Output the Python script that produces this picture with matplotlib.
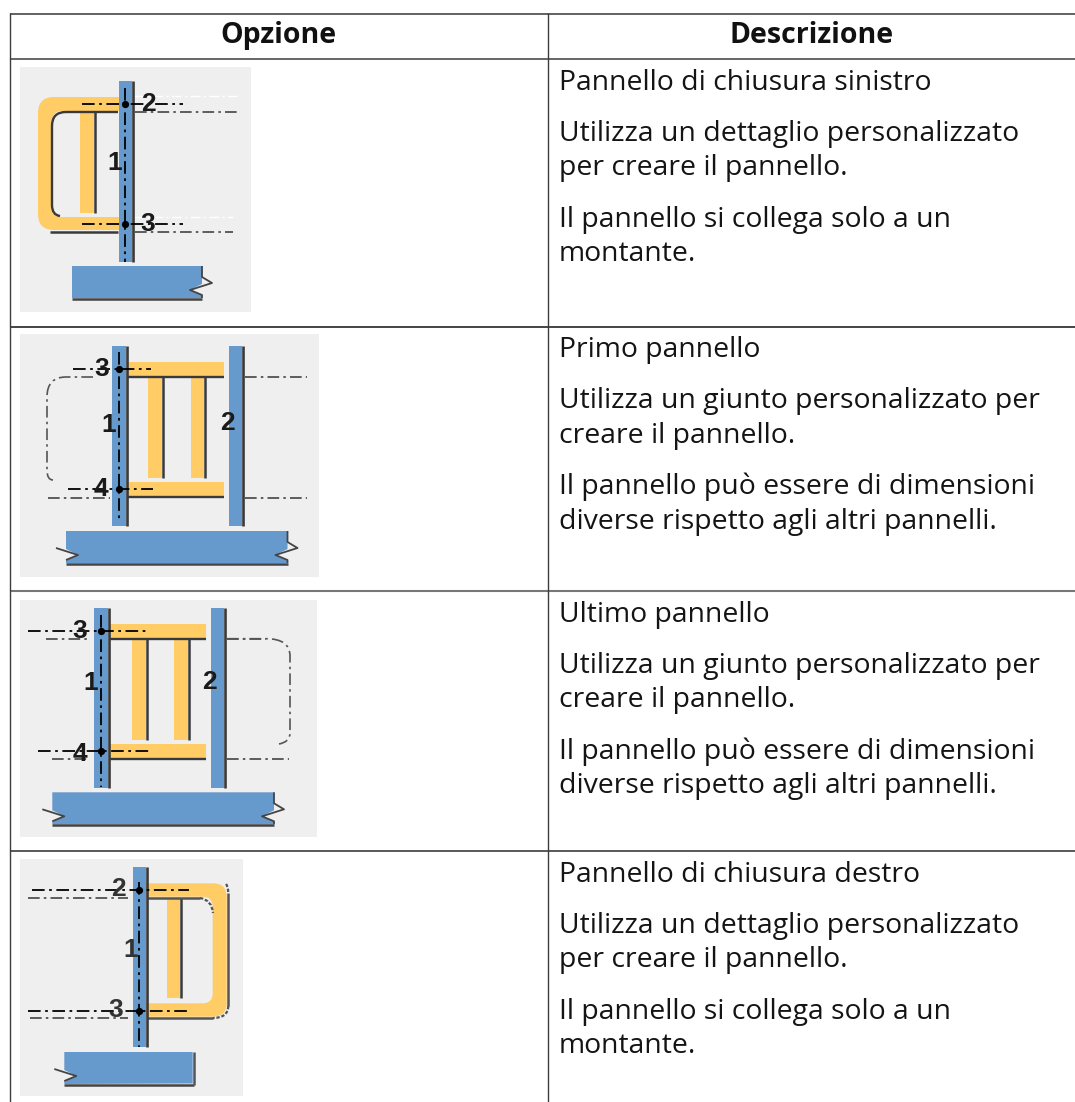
"""
Table of panel options (Opzione / Descrizione), drawn in pixel coordinates.
Output: out.png
"""

import matplotlib
matplotlib.use("Agg")
import matplotlib.pyplot as plt
from matplotlib.patches import PathPatch, Polygon, Rectangle
from matplotlib.path import Path

W, H = 1075, 1102
BLUE, YELLOW, PANEL_BG = "#6699CC", "#FFCC66", "#EFEFEF"
DARK, RULE = "#3A3A3A", "#3C3C3C"
DASHDOT = (0, (7, 2.5, 1.5, 2.5))

# ── table text ─────────────────────────────────────────────────────────────────
HEADERS = ["Opzione", "Descrizione"]
HEADER_X = [278, 812]
ROW_TOPS = [59, 326.5, 591, 851]
RULE_COLORS = ["#3C3C3C", "#444444", "#777777", "#3C3C3C"]
RULE_WIDTHS = [1.1, 1.4, 1.5, 1.2]
ROW_TEXT = [
    ["Pannello di chiusura sinistro", None,
     "Utilizza un dettaglio personalizzato", "per creare il pannello.", None,
     "Il pannello si collega solo a un", "montante."],
    ["Primo pannello", None,
     "Utilizza un giunto personalizzato per", "creare il pannello.", None,
     "Il pannello può essere di dimensioni", "diverse rispetto agli altri pannelli."],
    ["Ultimo pannello", None,
     "Utilizza un giunto personalizzato per", "creare il pannello.", None,
     "Il pannello può essere di dimensioni", "diverse rispetto agli altri pannelli."],
    ["Pannello di chiusura destro", None,
     "Utilizza un dettaglio personalizzato", "per creare il pannello.", None,
     "Il pannello si collega solo a un", "montante."],
]

# ── panel backgrounds (x0, y0, x1, y1) ─────────────────────────────────────────
PANELS = [(20, 67, 251, 312), (20, 334, 319, 577), (20, 600, 317, 837), (20, 859, 243, 1096)]

# posts: x0, x1, y0, y1
POSTS = [
    [(118.5, 132, 81, 262)],
    [(112.3, 125.7, 346, 526), (228.7, 241.7, 346, 526)],
    [(94.3, 107.7, 608, 788), (210.7, 224, 608, 788)],
    [(132.7, 146, 867, 1047)],
]
# yellow rails and ribs: x0, x1, y0, y1
RAILS = [
    [],
    [(127, 223.5, 362.3, 376), (127, 223.5, 482.3, 496.5)],
    [(109, 205.7, 624, 638), (109, 205.7, 744.3, 758.5)],
    [],
]
RIBS = [
    [(80, 93.5, 112, 213)],
    [(148.3, 161.7, 377, 478), (190.7, 204, 377, 478)],
    [(132.3, 145.7, 639, 740), (174.3, 187.7, 639, 740)],
    [(166.7, 180, 898, 998)],
]
# beams: x0, x1, y0, y1, left break, right break
BEAMS = [
    (72, 202, 266, 298, False, True),
    (66, 287.5, 531, 563, True, True),
    (52.3, 274, 792.3, 824.3, True, True),
    (64.3, 192.7, 1052, 1083.5, True, False),
]
BREAK_BLUE = [(0, 0), (0, 18), (-12, 24), (0, 29), (0, 32)]
BREAK_LINE = [(0, 0), (0, 11), (10, 17), (-12, 24), (0, 29), (0, 32)]

# black centre lines: vertical (x, y0, y1), horizontal (y, x0, x1), nodes (x, y)
CENTER_V = [(125.3, 88, 262), (119.3, 352, 522), (101, 615, 787), (139.3, 882, 1047)]
CENTER_H = [
    [(104, 82, 183), (224, 82, 183)],
    [(369, 73, 151), (489.3, 68, 153)],
    [(630.7, 28, 149), (751.3, 38, 149)],
    [(890, 32, 189), (1010.7, 28, 189)],
]
# thin grey extension lines: y, x0, x1
GREY_H = [
    [(112, 135, 237), (232, 135, 233)],
    [(377, 245, 307), (497.7, 245, 307), (497.7, 48, 110)],
    [(638.7, 46, 90), (759.3, 52, 90), (638.7, 227, 266), (759.3, 227, 289)],
    [(897.7, 28, 128), (1018.3, 30, 128)],
]
WHITE_H = [(96, 134, 237), (217, 134, 233)]

# numbered labels: text, x, y
LABELS = [
    [("2", 148, 104), ("3", 148, 224), ("1", 115, 163)],
    [("3", 101.7, 369), ("4", 100.7, 489), ("1", 109, 425), ("2", 227.7, 423)],
    [("3", 79.3, 631), ("4", 80, 754), ("1", 90.7, 683), ("2", 209.3, 682)],
    [("2", 118.3, 889.5), ("3", 116, 1010), ("1", 131, 950)],
]

# ── figure in pixel coordinates ────────────────────────────────────────────────
fig = plt.figure(figsize=(W / 100, H / 100), dpi=100)
ax = fig.add_axes([0, 0, 1, 1])
ax.set_xlim(0, W)
ax.set_ylim(H, 0)
ax.axis("off")


def rect(x0, x1, y0, y1, color, z=2):
    ax.add_patch(Rectangle((x0, y0), x1 - x0, y1 - y0, fc=color, ec="none", zorder=z))


def line(xs, ys, color=DARK, lw=1.7, ls="-", z=3):
    ax.plot(xs, ys, color=color, lw=lw, ls=ls, zorder=z, solid_capstyle="butt")


def curve(pts, codes, color="#555555", lw=1.2, ls=DASHDOT, z=3):
    ax.add_patch(PathPatch(Path(pts, codes), fc="none", ec=color, lw=lw, ls=ls, zorder=z))


def beam(x0, x1, y0, y1, left, right):
    blue_r = [(x1 + dx, y0 + dy) for dx, dy in BREAK_BLUE] if right else [(x1, y0), (x1, y1)]
    blue_l = [(x0 - dx, y0 + dy) for dx, dy in BREAK_BLUE[::-1]] if left else [(x0, y1), (x0, y0)]
    ax.add_patch(Polygon(blue_r + blue_l, fc=BLUE, ec="none", zorder=2))
    line([x0, x1 + (1.5 if not right else 0)], [y1 + 1, y1 + 1], color="#444444", lw=1.8)
    if right:
        xs = [x1 + dx for dx, dy in BREAK_LINE]
        ys = [y0 + dy for dx, dy in BREAK_LINE]
        line(xs, ys, color="#444444", lw=1.3)
    else:
        line([x1 + 1, x1 + 1], [y0, y1 + 1], color="#555555", lw=1.8)
    if left:
        xs = [x0 - dx for dx, dy in BREAK_LINE[2:5]]
        ys = [y0 + dy for dx, dy in BREAK_LINE[2:5]]
        line(xs, ys, color="#444444", lw=1.3)


# table rules
line([10, W], [13.5, 13.5], color="#555555", lw=1.3, z=1)
for y, c, lw in zip(ROW_TOPS, RULE_COLORS, RULE_WIDTHS):
    line([10, W], [y, y], color=c, lw=lw, z=1)
line([10, 10], [13, H], color=RULE, lw=1.0, z=1)
line([547.5, 547.5], [13, H], color=RULE, lw=1.0, z=1)

# table text
for label, x in zip(HEADERS, HEADER_X):
    ax.text(x, 43, label, ha="center", va="baseline", fontsize=20.5,
            fontweight="bold", family="Open Sans", color="#111111")
for top, lines in zip(ROW_TOPS, ROW_TEXT):
    y = top + 30.6
    for t in lines:
        if t is None:
            y += 16.8
            continue
        ax.text(559, y, t, ha="left", va="baseline", fontsize=20.45,
                family="Open Sans", color="#141414")
        y += 34.5

# panels
for i, (x0, y0, x1, y1) in enumerate(PANELS):
    rect(x0, x1, y0, y1, PANEL_BG, z=1.5)
    for y, xa, xb in GREY_H[i]:
        line([xa, xb], [y, y], color="#444444", lw=1.2, ls=DASHDOT, z=2.5)
    for xa, xb, ya, yb in RAILS[i]:
        rect(xa, xb, ya, yb, YELLOW)
        line([xa, xb], [yb + 0.5, yb + 0.5], lw=1.7)
    for xa, xb, ya, yb in RIBS[i]:
        rect(xa, xb, ya, yb, YELLOW)
        line([xb + 1.3, xb + 1.3], [ya, yb], lw=1.8)
    beam(*BEAMS[i])

# closing panels: rounded yellow C / D shapes
M, L, Q, Z = Path.MOVETO, Path.LINETO, Path.CURVE3, Path.CLOSEPOLY
c_pts = [(119, 97), (54, 97), (38, 97), (38, 113), (38, 214), (38, 230), (54, 230), (119, 230),
         (119, 217), (62, 217), (52, 217), (52, 207), (52, 122), (52, 111), (62, 111), (119, 111),
         (119, 97)]
c_codes = [M, L, Q, Q, L, Q, Q, L, L, L, Q, Q, L, Q, Q, L, Z]
ax.add_patch(PathPatch(Path(c_pts, c_codes), fc=YELLOW, ec="none", zorder=2))
d_pts = [(146, 883.3), (213, 883.3), (226.7, 883.3), (226.7, 897), (226.7, 1003), (226.7, 1016.7),
         (213, 1016.7), (146, 1016.7), (146, 1003.3), (203, 1003.3), (212.7, 1003.3), (212.7, 993),
         (212.7, 907), (212.7, 896.7), (203, 896.7), (146, 896.7), (146, 883.3)]
ax.add_patch(PathPatch(Path(d_pts, c_codes), fc=YELLOW, ec="none", zorder=2))

# dark edges of those shapes
line([66, 118], [112, 112], lw=1.7)
curve([(66, 112), (52, 112), (52, 126), (52, 205), (52, 215), (60, 216)], [M, Q, Q, L, Q, Q],
      color=DARK, lw=1.7, ls="-")
line([50, 118], [232, 232], lw=1.8)
line([147, 200], [898, 898], color="#555555", lw=1.8)
curve([(200, 898), (212, 900), (213, 913)], [M, Q, Q], color="#555555", lw=1.6, ls=(0, (1.5, 0.8)))
line([228.3, 228.3], [893, 1006], color="#555555", lw=1.8)
curve([(226, 884), (228, 886), (228.3, 893)], [M, Q, Q], color="#555555", lw=1.6, ls=(0, (1.5, 0.8)))
curve([(228.3, 1006), (228, 1018), (213, 1018)], [M, Q, Q], color="#555555", lw=1.6, ls=(0, (1.5, 0.8)))
line([147, 213], [1018, 1018], color="#555555", lw=1.8)

# white helper lines of first panel
for y, xa, xb in WHITE_H:
    line([xa, xb], [y, y], color="#FFFFFF", lw=1.0, ls=DASHDOT, z=2.5)

# rounded dash-dot return lines in the middle panels
curve([(93, 377), (66, 377), (47, 377), (47, 397), (47, 470), (47, 480), (53, 480)],
      [M, L, Q, Q, L, Q, Q])
curve([(227, 638.7), (266, 638.7), (290, 638.7), (290, 656), (290, 733), (290, 742), (279, 744)],
      [M, L, Q, Q, L, Q, Q])

# posts, centre lines, numbers
for i in range(4):
    for xa, xb, ya, yb in POSTS[i]:
        rect(xa, xb, ya, yb, BLUE, z=4)
        line([xb + 1.4, xb + 1.4], [ya, yb], color="#3A3A3A", lw=1.9, z=4)
    x, ya, yb = CENTER_V[i]
    line([x, x], [ya, yb], color="black", lw=1.3, ls=DASHDOT, z=5)
    for y, xa, xb in CENTER_H[i]:
        line([xa, xb], [y, y], color="black", lw=1.3, ls=DASHDOT, z=5)
        ax.plot([x], [y], "o", color="black", ms=5.2, mew=0, zorder=6)
    for t, tx, ty in LABELS[i]:
        ax.text(tx, ty, t, ha="center", va="center", fontsize=19, fontweight="bold",
                family="Liberation Sans", color="#1A1A1A" if i < 3 else "#333333", zorder=6)

fig.savefig("out.png", dpi=100)
